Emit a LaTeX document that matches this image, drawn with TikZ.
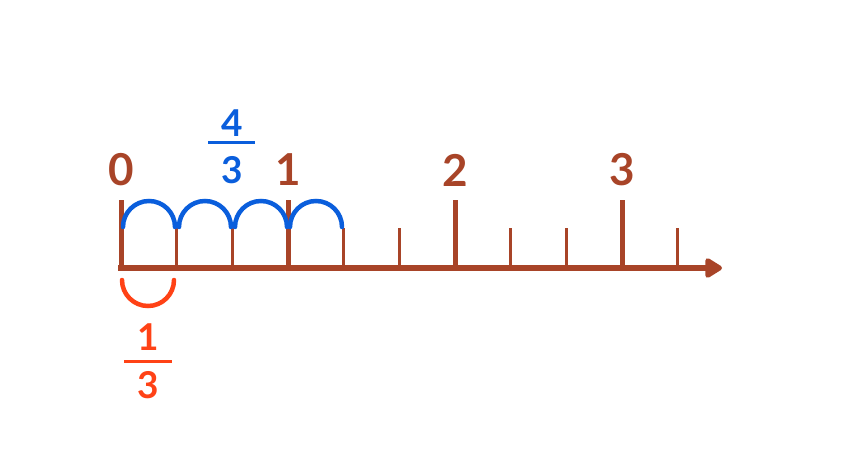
\documentclass[tikz,border=0pt]{standalone}
\usepackage{fontspec}
\setmainfont{Lato}
\usetikzlibrary{arrows.meta,positioning,calc}

\definecolor{axisbrown}{RGB}{168,68,40}
\definecolor{jumpblue}{RGB}{10,94,220}
\definecolor{jumpred}{RGB}{255,66,22}

\begin{document}
\begin{tikzpicture}[x=1pt,y=1pt,
    axis/.style={draw=axisbrown, line width=5.5pt},
    major/.style={draw=axisbrown, line width=5pt},
    minor/.style={draw=axisbrown, line width=3pt},
    bigjump/.style={draw=jumpblue, line width=4.5pt, line cap=round},
    smalljump/.style={draw=jumpred, line width=4.5pt, line cap=round},
    numlabel/.style={text=axisbrown, font=\fontsize{44}{44}\selectfont\bfseries, inner sep=0pt},
    fracnum/.style={font=\fontsize{37}{37}\selectfont\bfseries, inner sep=0pt}]
    \useasboundingbox (0,0) rectangle (847,467);

    % axis
    \coordinate (start) at (118,199);
    \coordinate (tip)   at (722,199);
    \draw[axis, -{Triangle[length=19pt,width=22pt,round]}] (start) -- (tip);

    % major ticks
    \coordinate (t0) at (121,199);
    \coordinate (t1) at (288,199);
    \coordinate (t2) at (455,199);
    \coordinate (t3) at (622,199);
    \draw[major] (t0) -- ++(0,68);
    \draw[major] (t1) -- ++(0,68);
    \draw[major] (t2) -- ++(0,68);
    \draw[major] (t3) -- ++(0,68);

    % minor ticks
    \draw[minor] (176.7,199) -- ++(0,40);
    \draw[minor] (232.3,199) -- ++(0,40);
    \draw[minor] (343.7,199) -- ++(0,40);
    \draw[minor] (399.3,199) -- ++(0,40);
    \draw[minor] (510.7,199) -- ++(0,40);
    \draw[minor] (566.3,199) -- ++(0,40);
    \draw[minor] (677.7,199) -- ++(0,40);

    % labels
    \node[numlabel] (l0) at (121,297) {0};
    \node[numlabel] (l1) at (288,297) {1};
    \node[numlabel] (l2) at (455,297) {2};
    \node[numlabel] (l3) at (622,297) {3};

    % jumps of four thirds
    \draw[bigjump] (123,240) arc (180:0:26);
    \draw[bigjump] (179,240) arc (180:0:26);
    \draw[bigjump] (235,240) arc (180:0:26);
    \draw[bigjump] (290,240) arc (180:0:26);

    % one third
    \draw[smalljump] (122,187) arc (180:360:26);

    % fractions
    \node[fracnum, text=jumpblue] (n4) at (232,344) {4};
    \node[fracnum, text=jumpblue] (d4) at (232,297) {3};
    \coordinate (b4l) at (208,324);
    \coordinate (b4r) at (255,324);
    \draw[jumpblue, line width=3pt] (b4l) -- (b4r);

    \node[fracnum, text=jumpred] (n1) at (148,130) {1};
    \node[fracnum, text=jumpred] (d1) at (148,82) {3};
    \coordinate (b1l) at (124,106);
    \coordinate (b1r) at (172,106);
    \draw[jumpred, line width=3pt] (b1l) -- (b1r);
\end{tikzpicture}
\end{document}
